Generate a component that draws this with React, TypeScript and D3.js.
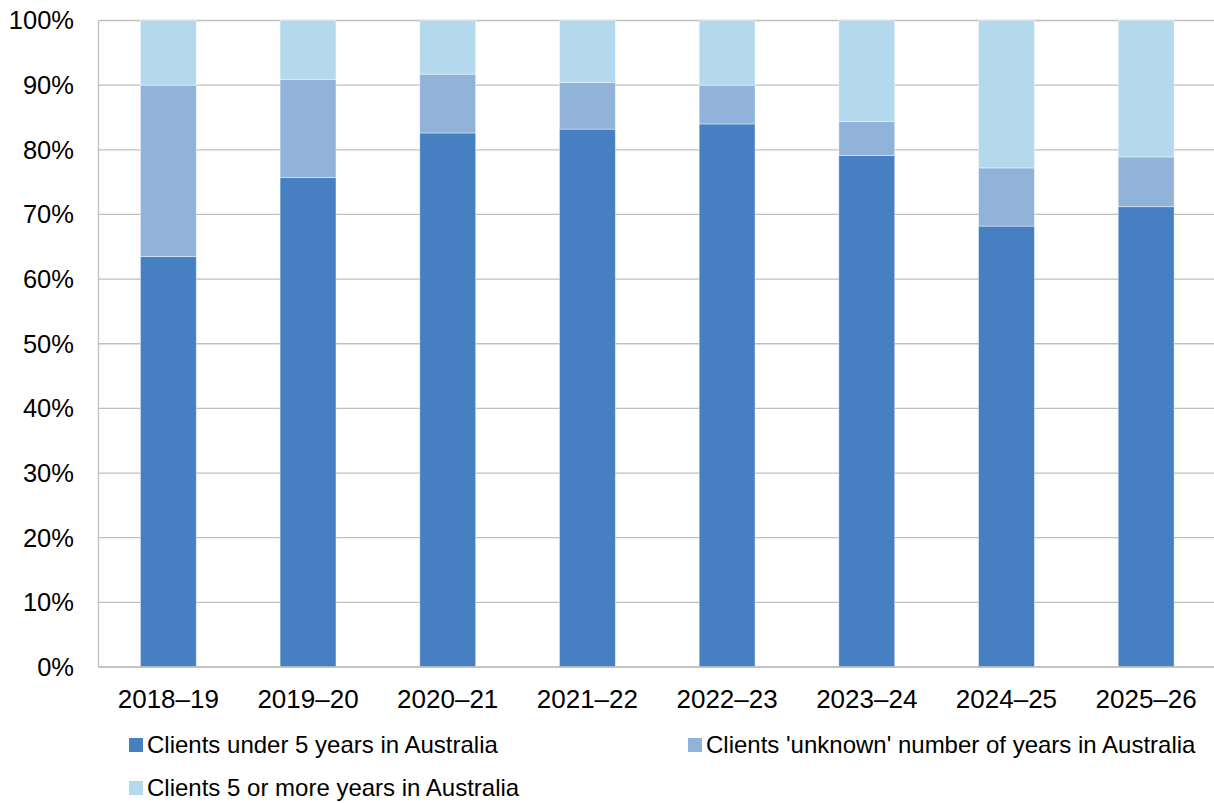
import React from "react";
import * as d3 from "d3";

const categories = ["2018–19", "2019–20", "2020–21", "2021–22", "2022–23", "2023–24", "2024–25", "2025–26"];
const under5 = [63.5, 75.7, 82.6, 83.2, 84.0, 79.1, 68.2, 71.2];
const unknown = [26.5, 15.2, 9.1, 7.2, 6.0, 5.3, 9.0, 7.7];
const fivePlus = [10.0, 9.1, 8.3, 9.6, 10.0, 15.6, 22.8, 21.1];
const seriesNames = [
  "Clients under 5 years in Australia",
  "Clients 'unknown' number of years in Australia",
  "Clients 5 or more years in Australia",
];
const yTicks = [0, 10, 20, 30, 40, 50, 60, 70, 80, 90, 100];
const colors = ["#4680C2", "#91B3DA", "#B4D9EC"];

export default function App() {
  const W = 1214, H = 803;
  const left = 98.5, right = 1216, top = 20.5, bottom = 667;
  const x = d3.scaleBand<string>().domain(categories).range([left, right]).paddingInner(0.6).paddingOuter(0.3);
  const y = d3.scaleLinear().domain([0, 100]).range([bottom, top]);
  const rows = categories.map((c, i) => ({ cat: c, a: under5[i], b: unknown[i], c: fivePlus[i] }));
  const stack = d3.stack<any>().keys(["a", "b", "c"]);
  const layers = stack(rows);
  const font = "'Liberation Sans', Arial, sans-serif";
  const legend = [
    { name: seriesNames[0], color: colors[0], x: 129, y: 745 },
    { name: seriesNames[1], color: colors[1], x: 688, y: 745 },
    { name: seriesNames[2], color: colors[2], x: 129, y: 788 },
  ];
  return (
    <svg width={W} height={H} style={{ position: "absolute", left: 0, top: 0, background: "#fff" }}>
      {yTicks.map((t) => (
        <g key={t}>
          <line x1={left} x2={W} y1={y(t)} y2={y(t)} stroke="#BFBFBF" strokeWidth={1.3} />
          <text x={74} y={y(t)} dy="0.35em" textAnchor="end" fontFamily={font} fontSize={25.5} fill="#000">
            {t}%
          </text>
        </g>
      ))}
      {layers.map((layer, li) => (
        <g key={li}>
          {layer.map((d: any, i: number) => (
            <rect
              key={i}
              x={x(categories[i])}
              width={x.bandwidth()}
              y={y(d[1])}
              height={y(d[0]) - y(d[1])}
              fill={colors[li]}
              stroke="#ffffff"
              strokeOpacity={0.5}
              strokeWidth={0.8}
            />
          ))}
        </g>
      ))}
      <line x1={left} x2={left} y1={top} y2={bottom} stroke="#BFBFBF" strokeWidth={1.3} />
      <line x1={left} x2={W} y1={bottom} y2={bottom} stroke="#BFBFBF" strokeWidth={1.3} />
      {categories.map((c) => (
        <text key={c} x={(x(c) as number) + x.bandwidth() / 2} y={708} textAnchor="middle" fontFamily={font} fontSize={26} fill="#000">
          {c}
        </text>
      ))}
      {legend.map((l) => (
        <g key={l.name}>
          <rect x={l.x} y={l.y - 7} width={14} height={14} fill={l.color} />
          <text x={l.x + 18} y={l.y} dy="0.35em" fontFamily={font} fontSize={24} fill="#000">
            {l.name}
          </text>
        </g>
      ))}
    </svg>
  );
}
